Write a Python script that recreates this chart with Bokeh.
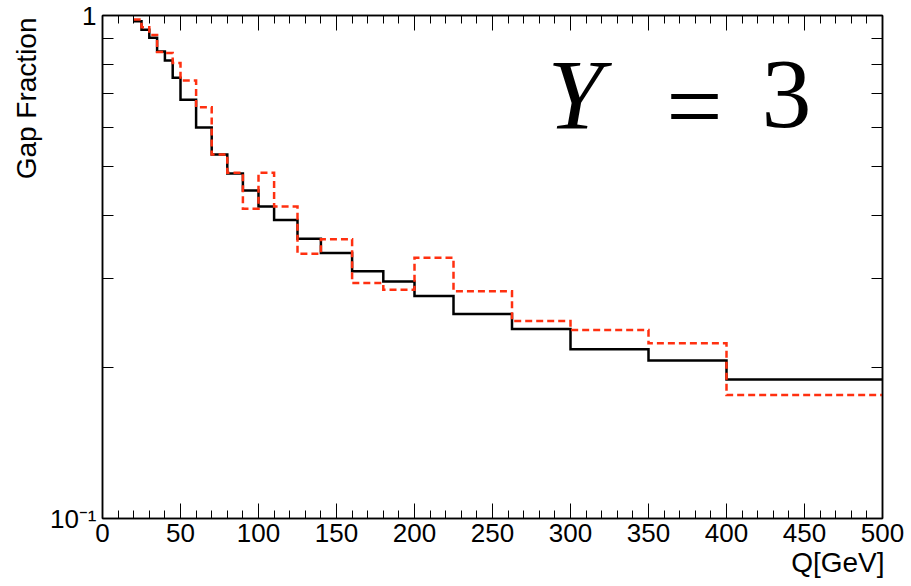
from bokeh.plotting import figure
from bokeh.models import (Range1d, SingleIntervalTicker, FixedTicker, LinearAxis,
                          LogAxis, Label, Title)
from bokeh.embed import file_html
from bokeh.resources import INLINE

# ---------------- data ----------------
bin_edges = [20, 25, 30, 35, 40, 45, 50, 60, 70, 80, 90, 100, 110, 125, 140,
             160, 180, 200, 225, 262.5, 300, 350, 400, 500]
gap_black = [0.974, 0.937, 0.903, 0.848, 0.814, 0.752, 0.680, 0.599, 0.529,
             0.485, 0.449, 0.417, 0.392, 0.360, 0.337, 0.310, 0.296, 0.277,
             0.255, 0.238, 0.217, 0.206, 0.189]
gap_red = [0.982, 0.948, 0.915, 0.846, 0.842, 0.805, 0.743, 0.657, 0.529,
           0.487, 0.413, 0.487, 0.417, 0.336, 0.359, 0.294, 0.285, 0.330,
           0.283, 0.247, 0.237, 0.223, 0.176]
x_ticks_interval = 50
y_major_ticks = [0.1, 1]
y_minor_ticks = [0.2, 0.3, 0.4, 0.5, 0.6, 0.7, 0.8, 0.9]
y_tick_labels = {0.1: "10\u207b\u00b9", 1: "1"}
x_title = "Q[GeV]"
y_title = "Gap Fraction"

FONT = "Liberation Sans"

p = figure(width=911, height=586, output_backend="svg", toolbar_location=None,
           x_range=Range1d(0, 500), y_range=Range1d(0.1, 1), y_axis_type="log",
           min_border_left=102, min_border_right=29, min_border_top=15,
           min_border_bottom=68)
p.background_fill_color = "white"
p.border_fill_color = "white"
p.outline_line_color = "black"
p.outline_line_width = 1.5
p.xgrid.visible = False
p.ygrid.visible = False

xa = p.xaxis[0]
xa.ticker = SingleIntervalTicker(interval=x_ticks_interval, num_minor_ticks=5)
ya = p.yaxis[0]
ya.ticker = FixedTicker(ticks=y_major_ticks, minor_ticks=y_minor_ticks)
ya.major_label_overrides = y_tick_labels

top = LinearAxis(ticker=SingleIntervalTicker(interval=x_ticks_interval, num_minor_ticks=5))
right = LogAxis(ticker=FixedTicker(ticks=y_major_ticks, minor_ticks=y_minor_ticks))
p.add_layout(top, "above")
p.add_layout(right, "right")

for ax in (xa, top):
    ax.major_tick_in = 15
    ax.major_tick_out = 0
    ax.minor_tick_in = 8
    ax.minor_tick_out = 0
for ax in (ya, right):
    ax.major_tick_in = 22
    ax.major_tick_out = 0
    ax.minor_tick_in = 11
    ax.minor_tick_out = 0
for ax in (xa, ya, top, right):
    ax.axis_line_color = "black"
    ax.axis_line_width = 1.5
    ax.major_tick_line_color = "black"
    ax.minor_tick_line_color = "black"
    ax.major_tick_line_width = 1
    ax.minor_tick_line_width = 1
    ax.major_label_text_font = FONT
    ax.major_label_text_font_size = "26px"
    ax.major_label_text_color = "black"
for ax in (top, right):
    ax.major_label_text_font_size = "2px"
    ax.major_label_text_color = None
    ax.major_label_standoff = 0
    ax.axis_label_standoff = 0
xa.major_label_standoff = 5
ya.major_label_standoff = 6

# ROOT-style axis titles, right/top aligned at the axis ends
p.add_layout(Title(text=x_title, align="right", standoff=0, offset=-2,
                   text_font=FONT, text_font_style="normal",
                   text_font_size="28px", text_color="black"), "below")
p.add_layout(Title(text=y_title, align="right", standoff=9, offset=2,
                   text_font=FONT, text_font_style="normal",
                   text_font_size="28px", text_color="black"), "left")

# histograms as steps
p.step(x=bin_edges, y=gap_black + [gap_black[-1]], mode="after",
       line_color="black", line_width=2.5, line_join="miter")
p.step(x=bin_edges, y=gap_red + [gap_red[-1]], mode="after",
       line_color="#ff3010", line_width=2.5, line_dash="7 4", line_join="miter")

# big "Y = 3" text
p.add_layout(Label(x=445, y=424, x_units="screen", y_units="screen", text="Y",
                   text_align="left", text_baseline="alphabetic",
                   text_font="Liberation Serif", text_font_style="italic",
                   text_font_size="100px", text_color="black"))
p.add_layout(Label(x=592, y=412, x_units="screen", y_units="screen", text="=",
                   text_align="center", text_baseline="alphabetic",
                   text_font="Liberation Serif", text_font_size="100px",
                   text_color="black"))
p.add_layout(Label(x=684, y=424, x_units="screen", y_units="screen", text="3",
                   text_align="center", text_baseline="alphabetic",
                   text_font="Liberation Serif", text_font_size="100px",
                   text_color="black"))

open("out.html", "w").write(file_html(p, INLINE))
